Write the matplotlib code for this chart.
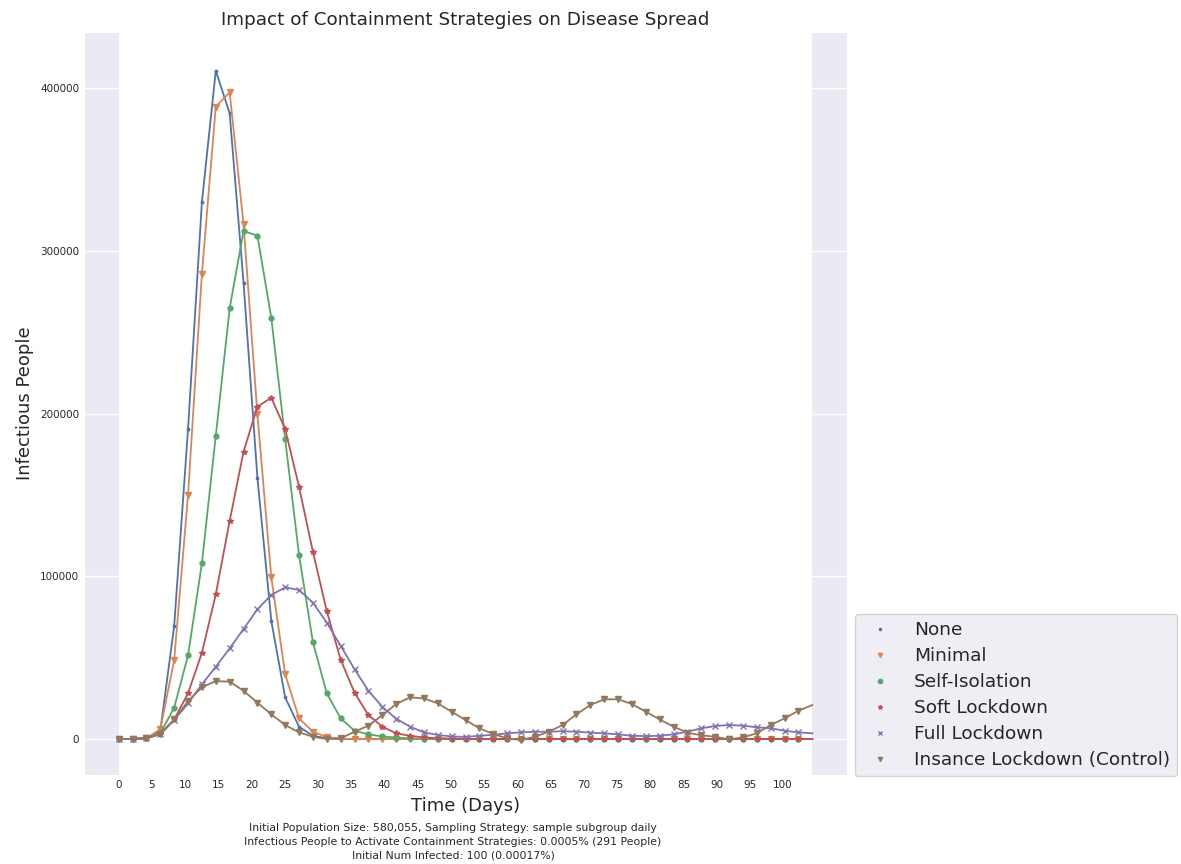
import matplotlib
matplotlib.use("Agg")
import matplotlib.pyplot as plt
import numpy as np
from matplotlib.lines import Line2D

plt.rcParams.update({
    "font.family": ["DejaVu Sans"],
    "axes.facecolor": "#EAEAF2",
    "axes.edgecolor": "white",
    "axes.grid": True,
    "grid.color": "white",
    "grid.linewidth": 1.0,
    "text.color": ".15",
    "axes.labelcolor": ".15",
    "xtick.color": ".15",
    "ytick.color": ".15",
    "xtick.major.size": 0,
    "ytick.major.size": 0,
    "legend.facecolor": "#EAEAF2",
})

# sampled days (one marker every ~2.09 days), plus the final simulated day
days = list(np.round(np.arange(50) * 2.088, 3)) + [104.4]

none_vals = [0, 0, 500, 5000, 69400, 190500, 330000, 410600, 384400, 280400,
             160600, 72700, 25600, 7600, 2000, 500] + [0] * 35
minimal_vals = [0, 0, 500, 6000, 48500, 150000, 286000, 388500, 397300, 316400,
                199500, 99400, 39800, 12700, 4500, 1200, 300] + [0] * 34
self_iso_vals = [0, 0, 500, 3500, 19200, 51400, 108100, 186400, 264600, 312100,
                 309300, 258900, 184300, 113100, 59600, 28100, 12700, 5100,
                 2900, 1600, 900, 400, 200] + [0] * 28
soft_vals = [0, 0, 500, 3000, 12000, 28100, 53000, 88900, 134000, 176500,
             204200, 209700, 190500, 155000, 115100, 78600, 48800, 28500,
             14700, 7600, 3500, 2000, 1000, 500, 300] + [0] * 26
full_vals = [0, 0, 500, 3000, 11700, 21900, 33600, 44400, 55700, 67600,
             79700, 88500, 93200, 91600, 83800, 71500, 57300, 42900, 29700,
             19800, 12500, 7600, 4100, 2500, 1600, 1300, 2000, 2600, 3500,
             4100, 4500, 4500, 4800, 4500, 3900, 3500, 2900, 2000, 1800,
             2000, 2900, 4500, 6600, 8000, 8600, 8200, 7200, 6600, 5100,
             4100, 3500]
insane_vals = [0, 0, 500, 3000, 12000, 23300, 31800, 35600, 35200, 29700,
               22300, 15200, 8600, 4100, 1400, 0, 400, 4500, 8200, 14600,
               21500, 25600, 25000, 21900, 16800, 11700, 6600, 3100, 400,
               -600, 1400, 4500, 8600, 15200, 20900, 24400, 24400, 21500,
               16800, 12000, 7600, 3900, 2300, 1400, -200, 1000, 3500, 8600,
               12700, 17400, 20900]

labels = ["None", "Minimal", "Self-Isolation", "Soft Lockdown",
          "Full Lockdown", "Insance Lockdown (Control)"]
series = [none_vals, minimal_vals, self_iso_vals, soft_vals, full_vals,
          insane_vals]
colors = ["#4C72B0", "#DD8452", "#55A868", "#C44E52", "#8172B3", "#937860"]
markers = [".", "v", "o", "*", "x", "v"]
msizes = [3.5, 4, 3.5, 4, 4, 4]

fig = plt.figure(figsize=(11.81, 8.64), dpi=100)
ax = fig.add_axes([84 / 1181, 1 - 775 / 864, 763 / 1181, 743 / 864])
ax.grid(axis="x", visible=False)

# white band over the simulated period
ax.axvspan(days[0], days[-1], color="white", zorder=0.8, linewidth=0)

for vals, lab, c, m, ms in zip(series, labels, colors, markers, msizes):
    ax.plot(days, vals, color=c, linewidth=1.3, marker=m, markersize=ms,
            markevery=list(range(50)), zorder=2)

ax.set_xlim(-5.22, 109.62)
ax.set_ylim(-22100, 434400)
ax.set_xticks(range(0, 101, 5))
ax.set_yticks([0, 100000, 200000, 300000, 400000])
ax.ticklabel_format(axis="y", style="plain")
ax.tick_params(axis="both", labelsize=7.5)
ax.set_axisbelow(True)

ax.set_title("Impact of Containment Strategies on Disease Spread",
             fontsize=13.2, pad=5)
ax.set_xlabel("Time (Days)", fontsize=13, labelpad=5)
ax.set_ylabel("Infectious People", fontsize=13)

fig.text(453 / 1181, 1 - 842 / 864,
         "Initial Population Size: 580,055, Sampling Strategy: sample subgroup daily\n"
         "Infectious People to Activate Containment Strategies: 0.0005% (291 People)\n"
         "Initial Num Infected: 100 (0.00017%)",
         ha="center", va="center", fontsize=7.8, linespacing=1.45)

handles = [Line2D([0], [0], marker=m, color=c, linestyle="", markersize=3)
           for c, m in zip(colors, markers)]
ax.legend(handles, labels, loc="lower left", bbox_to_anchor=(1.01, -0.002),
          fontsize=13.3, labelspacing=0.43, frameon=True, borderaxespad=0)

fig.savefig("out.png", dpi=100)
